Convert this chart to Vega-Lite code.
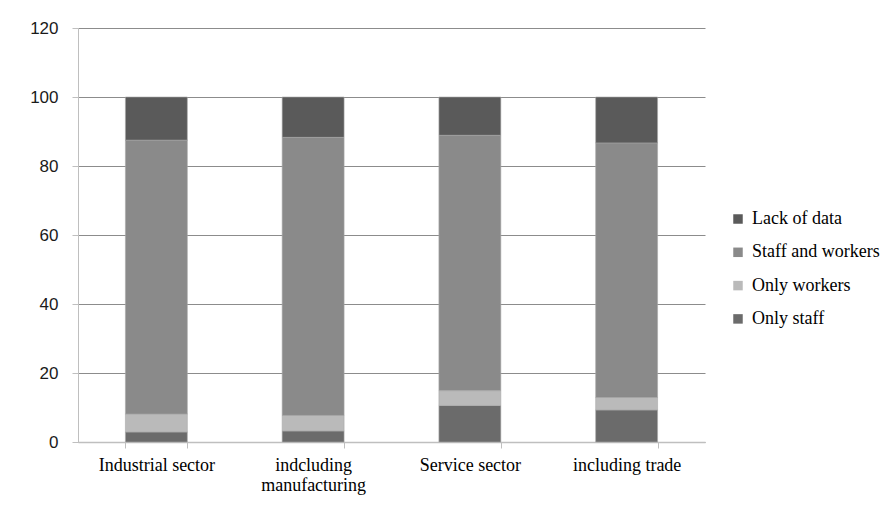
{
  "$schema": "https://vega.github.io/schema/vega-lite/v6.json",
  "width": 627,
  "height": 414,
  "autosize": {"type": "none"},
  "padding": {"left": 78, "top": 28, "right": 185, "bottom": 83},
  "background": "white",
  "data": {
    "values": [
      {"category": "Industrial sector", "segment": "Only staff", "value": 2.9, "ord": 1},
      {"category": "Industrial sector", "segment": "Only workers", "value": 5.2, "ord": 2},
      {"category": "Industrial sector", "segment": "Staff and workers", "value": 79.4, "ord": 3},
      {"category": "Industrial sector", "segment": "Lack of data", "value": 12.5, "ord": 4},
      {"category": "indcluding manufacturing", "segment": "Only staff", "value": 3.2, "ord": 1},
      {"category": "indcluding manufacturing", "segment": "Only workers", "value": 4.5, "ord": 2},
      {"category": "indcluding manufacturing", "segment": "Staff and workers", "value": 80.6, "ord": 3},
      {"category": "indcluding manufacturing", "segment": "Lack of data", "value": 11.7, "ord": 4},
      {"category": "Service sector", "segment": "Only staff", "value": 10.6, "ord": 1},
      {"category": "Service sector", "segment": "Only workers", "value": 4.3, "ord": 2},
      {"category": "Service sector", "segment": "Staff and workers", "value": 74.0, "ord": 3},
      {"category": "Service sector", "segment": "Lack of data", "value": 11.1, "ord": 4},
      {"category": "including trade", "segment": "Only staff", "value": 9.3, "ord": 1},
      {"category": "including trade", "segment": "Only workers", "value": 3.6, "ord": 2},
      {"category": "including trade", "segment": "Staff and workers", "value": 73.8, "ord": 3},
      {"category": "including trade", "segment": "Lack of data", "value": 13.3, "ord": 4}
    ]
  },
  "mark": {"type": "bar", "stroke": "#a8a8a8", "strokeWidth": 0.6},
  "encoding": {
    "x": {
      "field": "category",
      "type": "nominal",
      "sort": ["Industrial sector", "indcluding manufacturing", "Service sector", "including trade"],
      "scale": {"paddingInner": 0.605, "paddingOuter": 0.3025},
      "axis": {
        "title": null,
        "labelAngle": 0,
        "labelFont": "Liberation Serif",
        "labelFontSize": 18,
        "labelColor": "#000000",
        "labelPadding": 8,
        "labelBaseline": "top",
        "labelLineHeight": 20,
        "labelExpr": "datum.value == 'indcluding manufacturing' ? ['indcluding', 'manufacturing'] : datum.value",
        "tickBand": "extent",
        "tickSize": 6,
        "tickColor": "#bfbfbf",
        "domainColor": "#bfbfbf",
        "domainWidth": 1.5,
        "grid": false
      }
    },
    "y": {
      "field": "value",
      "type": "quantitative",
      "stack": "zero",
      "scale": {"domain": [0, 120], "nice": false},
      "axis": {
        "title": null,
        "values": [0, 20, 40, 60, 80, 100, 120],
        "labelFont": "Liberation Sans",
        "labelFontSize": 17,
        "labelColor": "#1a1a1a",
        "labelPadding": 14,
        "tickSize": 6,
        "tickColor": "#bfbfbf",
        "domainColor": "#bfbfbf",
        "gridColor": "#8c8c8c",
        "gridWidth": 1
      }
    },
    "color": {
      "field": "segment",
      "type": "nominal",
      "sort": ["Lack of data", "Staff and workers", "Only workers", "Only staff"],
      "scale": {
        "domain": ["Lack of data", "Staff and workers", "Only workers", "Only staff"],
        "range": ["#5a5a5a", "#8a8a8a", "#bababa", "#6b6b6b"]
      },
      "legend": {
        "title": null,
        "orient": "none",
        "legendX": 651,
        "legendY": 182,
        "symbolType": "square",
        "symbolSize": 90,
        "symbolStrokeWidth": 0,
        "labelFont": "Liberation Serif",
        "labelFontSize": 18,
        "labelColor": "#000000",
        "labelOffset": 5,
        "rowPadding": 15.3
      }
    },
    "order": {"field": "ord", "type": "quantitative"}
  },
  "config": {
    "view": {"stroke": null}
  }
}
